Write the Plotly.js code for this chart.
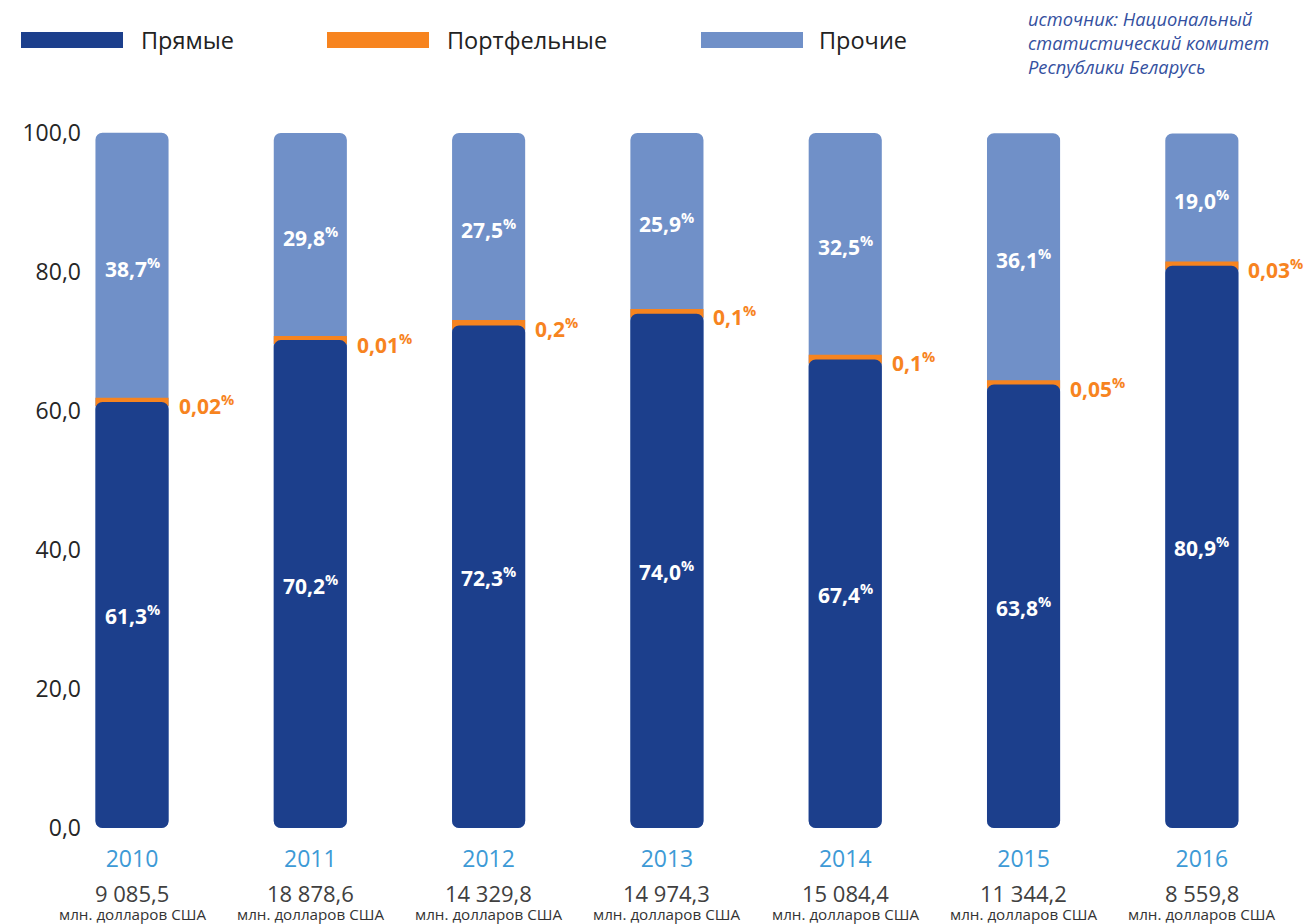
<!DOCTYPE html>
<html>
<head>
<meta charset="utf-8">
<script src="https://cdn.plot.ly/plotly-3.0.1.min.js"></script>
<style>html,body{margin:0;padding:0;background:#fff;}#chart{width:1310px;height:924px;}</style>
</head>
<body>
<div id="chart"></div>
<script>
// ---- data ----
const years = ['2010', '2011', '2012', '2013', '2014', '2015', '2016'];
const direct = [61.3, 70.2, 72.3, 74.0, 67.4, 63.8, 80.9];          // Прямые
const portfolio = [0.02, 0.01, 0.2, 0.1, 0.1, 0.05, 0.03];          // Портфельные
const other = [38.7, 29.8, 27.5, 25.9, 32.5, 36.1, 19.0];           // Прочие
const totals = [9085.5, 18878.6, 14329.8, 14974.3, 15084.4, 11344.2, 8559.8]; // млн. долларов США
const seriesNames = ['Прямые', 'Портфельные', 'Прочие'];
const sourceLines = ['источник: Национальный', 'статистический комитет', 'Республики Беларусь'];
const unitLabel = 'млн. долларов США';

// ---- styles ----
const C_DIRECT = '#1c3f8c';
const C_PORT = '#f7841f';
const C_OTHER = '#7090c8';
const C_YEAR = '#3d9ad6';
const FONT = 'Open Sans, Noto Sans, sans-serif';

const W = 1310, H = 924;
const M = {l: 90, r: 19, t: 126, b: 96};
const plotW = W - M.l - M.r, plotH = H - M.t - M.b;
const px2x = px => (px - M.l) / plotW;
const py2y = py => (H - M.b - py) / plotH;

const xs = years.map((_, i) => i);
const barW = 0.41;
const stripe = 8; // px line width of portfolio stripe
const unitPx = plotW / (6.5 + 0.2356);
const stack = direct.map((d, i) => d + portfolio[i] + other[i]);

const fmtDec = v => v.toFixed(1).replace('.', ',');
const fmtPort = v => String(v).replace('.', ',');
const fmtTotal = v => {
  const [ip, dp] = v.toFixed(1).split('.');
  return ip.replace(/\B(?=(\d{3})+(?!\d))/g, ' ') + ',' + dp;
};

const traces = [
  {type: 'bar', name: seriesNames[2], x: xs, y: stack, base: 0, width: barW,
   marker: {color: C_OTHER, cornerradius: 7}, showlegend: false, hoverinfo: 'skip'},
  {type: 'bar', name: seriesNames[1], x: xs, y: portfolio, base: direct, width: barW - stripe / unitPx,
   marker: {color: C_PORT, line: {color: C_PORT, width: stripe}}, showlegend: false, hoverinfo: 'skip'},
  {type: 'bar', name: seriesNames[0], x: xs, y: direct, base: 0, width: barW,
   marker: {color: C_DIRECT, cornerradius: 7}, showlegend: false, hoverinfo: 'skip'}
];

const annotations = [];
xs.forEach((x, i) => {
  annotations.push({x: x, y: direct[i] / 2, xref: 'x', yref: 'y', showarrow: false,
    text: '<b>' + fmtDec(direct[i]) + '<sup>%</sup></b>',
    font: {family: FONT, size: 21, color: '#ffffff'}, xanchor: 'center', yanchor: 'middle'});
  const top = direct[i] + portfolio[i];
  annotations.push({x: x, y: (top + stack[i]) / 2, xref: 'x', yref: 'y', showarrow: false,
    text: '<b>' + fmtDec(other[i]) + '<sup>%</sup></b>',
    font: {family: FONT, size: 21, color: '#ffffff'}, xanchor: 'center', yanchor: 'middle'});
  annotations.push({x: x + barW / 2, y: top, xref: 'x', yref: 'y', showarrow: false,
    text: '<b>' + fmtPort(portfolio[i]) + '<sup>%</sup></b>', xshift: 8, yshift: -3,
    font: {family: FONT, size: 21, color: C_PORT}, xanchor: 'left', yanchor: 'middle'});
  annotations.push({x: x, y: py2y(893), xref: 'x', yref: 'paper', showarrow: false,
    text: fmtTotal(totals[i]), font: {family: FONT, size: 22, color: '#404040'},
    xanchor: 'center', yanchor: 'middle'});
  annotations.push({x: x, y: py2y(914), xref: 'x', yref: 'paper', showarrow: false,
    text: unitLabel, font: {family: FONT, size: 15.2, color: '#333333'},
    xanchor: 'center', yanchor: 'middle'});
});

// legend (custom, wide swatches)
const legendItems = [
  {name: seriesNames[0], color: C_DIRECT, sx: 21, tx: 139},
  {name: seriesNames[1], color: C_PORT, sx: 327, tx: 445},
  {name: seriesNames[2], color: C_OTHER, sx: 701, tx: 817}
];
const shapes = [];
legendItems.forEach(it => {
  shapes.push({type: 'rect', xref: 'paper', yref: 'paper', x0: px2x(it.sx), x1: px2x(it.sx + 102),
    y0: py2y(48), y1: py2y(32), fillcolor: it.color, line: {width: 0}});
  annotations.push({x: px2x(it.tx), y: py2y(40), xref: 'paper', yref: 'paper', showarrow: false,
    text: it.name, font: {family: FONT, size: 23.5, color: '#222222'}, xanchor: 'left', yanchor: 'middle'});
});

annotations.push({x: px2x(1026), y: py2y(4), xref: 'paper', yref: 'paper', showarrow: false,
  text: sourceLines.join('<br>'), align: 'left', xanchor: 'left', yanchor: 'top',
  font: {family: FONT, size: 18.3, color: '#3450a0', style: 'italic'}});

const layout = {
  width: W, height: H,
  margin: M,
  paper_bgcolor: '#ffffff', plot_bgcolor: '#ffffff',
  barmode: 'overlay',
  separators: ', ',
  font: {family: FONT},
  xaxis: {range: [-0.2356, 6.5], tickvals: xs, ticktext: years, showgrid: false, zeroline: false,
    showline: false, ticks: 'outside', ticklen: 10, tickcolor: 'rgba(0,0,0,0)',
    tickfont: {family: FONT, size: 23, color: C_YEAR}},
  yaxis: {range: [0, 101], tickvals: [0, 20, 40, 60, 80, 100], tickformat: '.1f', showgrid: false,
    zeroline: false, showline: false, ticks: '', ticklabelstandoff: 8,
    tickfont: {family: FONT, size: 23, color: '#262626'}},
  showlegend: false,
  shapes: shapes,
  annotations: annotations
};

Plotly.newPlot('chart', traces, layout, {staticPlot: true, displayModeBar: false});
</script>
</body>
</html>
